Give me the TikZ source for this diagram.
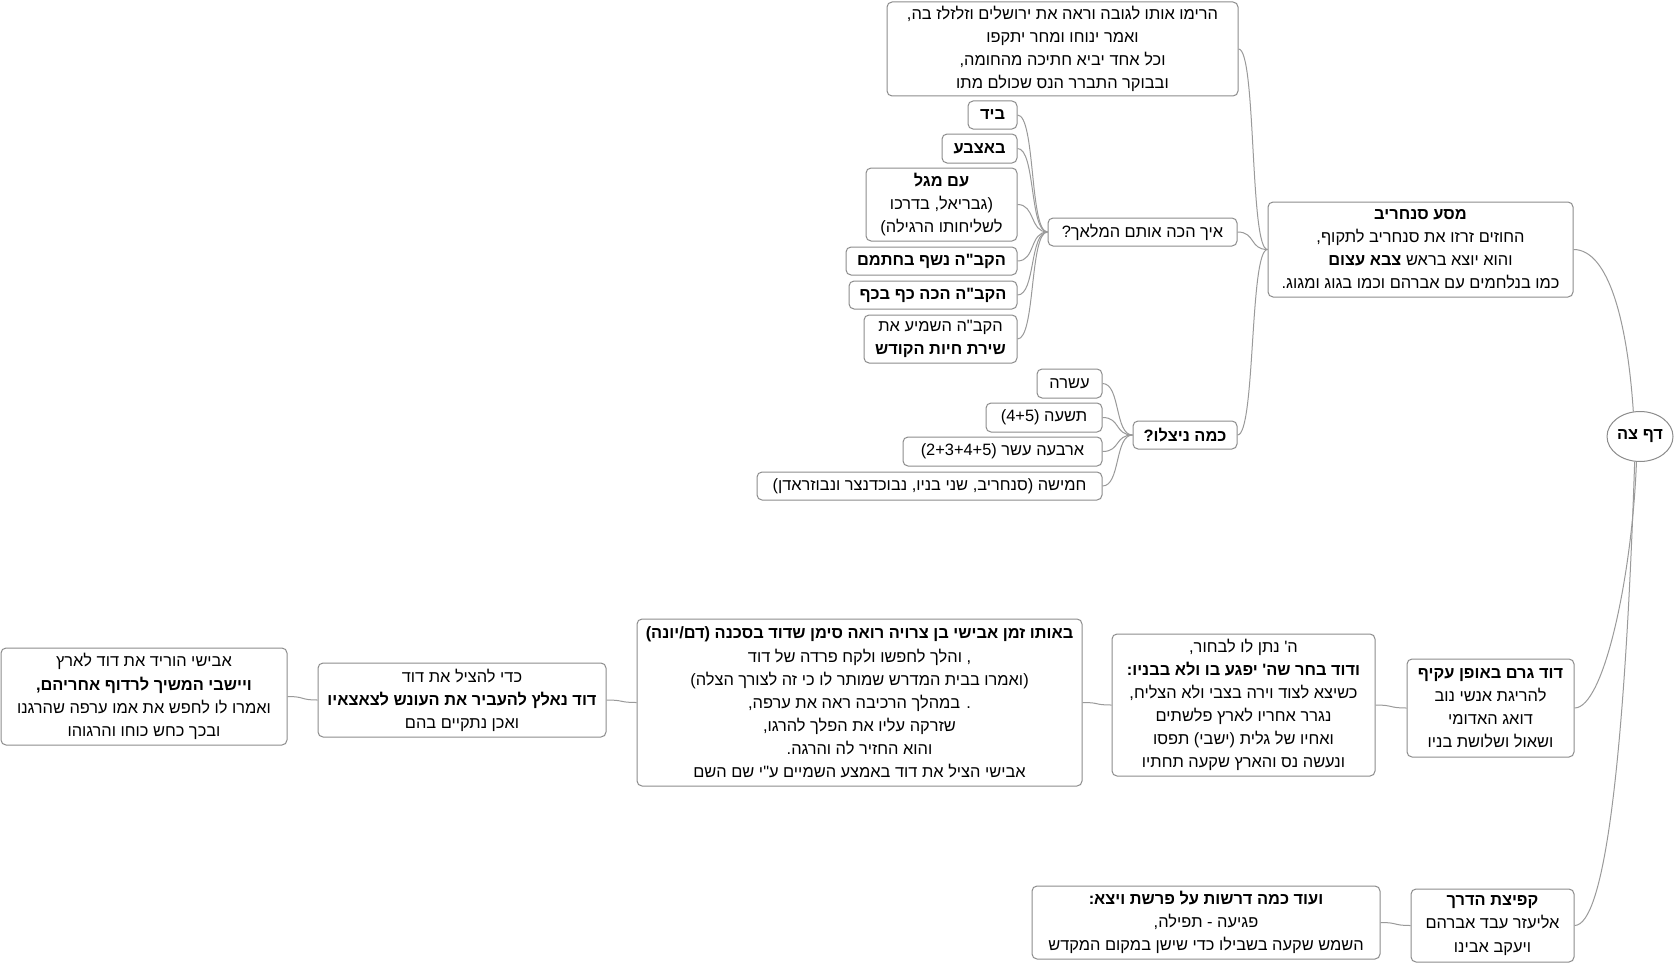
\documentclass[tikz,border=0pt]{standalone}
\usepackage{fontspec}
\usetikzlibrary{shapes.geometric}
\TeXXeTstate=1
\newfontfamily\hebfont[Script=Hebrew]{Liberation Sans}
\newfontfamily\latfont{Liberation Sans}
\newcommand\hbr[1]{\beginR#1\endR}
\definecolor{boxgray}{HTML}{8C8C8C}
\definecolor{linkgray}{HTML}{9A9A9A}
\tikzset{
  box/.style={draw=boxgray, rounded corners=2.5pt, line width=0.5pt, fill=white,
    inner sep=0pt, align=center, text=black,
    font=\hebfont\fontsize{8.2}{11.55}\selectfont},
  rootbox/.style={draw=boxgray, ellipse, line width=0.5pt, fill=white, inner sep=0pt,
    minimum width=33pt, minimum height=25pt, text=black,
    font=\hebfont\bfseries\fontsize{8.2}{11.55}\selectfont},
  link/.style={draw=linkgray, line width=0.5pt}
}
\newcommand\lnk[2]{\draw[link] (#1.west) .. controls +(-18,0) and +(18,0) .. (#2.east);}
\begin{document}
\begin{tikzpicture}[x=0.5pt,y=-0.5pt]
\useasboundingbox (0,0) rectangle (1674,963);
\fill[white] (0,0) rectangle (1674,963);

% top box
\node[box, minimum width=175.5pt, minimum height=47pt] (A) at (1062.5,49)
 {\hbr{הרימו אותו לגובה וראה את ירושלים וזלזלז בה,}\\
  \hbr{ואמר ינוחו ומחר יתקפו}\\
  \hbr{וכל אחד יביא חתיכה מהחומה,}\\
  \hbr{ובבוקר התברר הנס שכולם מתו}};

% how did the angel strike
\node[box, minimum width=24.5pt, minimum height=14pt] (B) at (992.5,115) {\bfseries\hbr{ביד}};
\node[box, minimum width=37.5pt, minimum height=14.5pt] (C) at (979.5,148.5) {\bfseries\hbr{באצבע}};
\node[box, minimum width=75.5pt, minimum height=36.5pt] (D) at (941.5,204.5)
 {\hbr{\bfseries עם מגל}\\ \hbr{(גבריאל, בדרכו}\\ \hbr{לשליחותו הרגילה)}};
\node[box, minimum width=85.5pt, minimum height=14pt] (E) at (931.5,261) {\bfseries\hbr{הקב"ה נשף בחתמם}};
\node[box, minimum width=84pt, minimum height=14pt] (F) at (933,295) {\bfseries\hbr{הקב"ה הכה כף בכף}};
\node[box, minimum width=76.5pt, minimum height=24pt] (G) at (940.5,339)
 {\hbr{הקב"ה השמיע את}\\ \hbr{\bfseries שירת חיות הקודש}};
\node[box, minimum width=94.5pt, minimum height=14pt] (H) at (1142.5,232) {\hbr{איך הכה אותם המלאך?}};

% how many were saved
\node[box, minimum width=32.5pt, minimum height=14.5pt] (I) at (1069.5,383.5) {\hbr{עשרה}};
\node[box, minimum width=58pt, minimum height=14.5pt] (J) at (1044,417.5) {{\latfont (4+5)} \hbr{תשעה}};
\node[box, minimum width=99.5pt, minimum height=14.5pt] (K) at (1002.5,451.5) {{\latfont (2+3+4+5)} \hbr{ארבעה עשר}};
\node[box, minimum width=172.5pt, minimum height=14pt] (L) at (929.5,486) {\hbr{חמישה (סנחריב, שני בניו, נבוכדנצר ונבוזראדן)}};
\node[box, minimum width=52pt, minimum height=14pt] (M) at (1185,435) {\bfseries\hbr{כמה ניצלו?}};

% Sennacherib
\node[box, minimum width=152.5pt, minimum height=47.5pt] (N) at (1420.5,249.5)
 {\hbr{\bfseries מסע סנחריב}\\
  \hbr{החוזים זרזו את סנחריב לתקוף,}\\
  \hbr{והוא יוצא בראש {\bfseries צבא עצום}}\\
  \hbr{כמו בנלחמים עם אברהם וכמו בגוג ומגוג.}};

% root
\node[rootbox] (R) at (1640,436.5) {\hbr{דף צה}};

% David chain
\node[box, minimum width=83.5pt, minimum height=49pt] (P1) at (1490.5,708)
 {\hbr{\bfseries דוד גרם באופן עקיף}\\ \hbr{להריגת אנשי נוב}\\ \hbr{דואג האדומי}\\ \hbr{ושאול ושלושת בניו}};
\node[box, minimum width=131.5pt, minimum height=71pt] (P2) at (1243.5,705)
 {\hbr{ה' נתן לו לבחור,}\\
  \hbr{\bfseries ודוד בחר שה' יפגע בו ולא בבניו:}\\
  \hbr{כשיצא לצוד וירה בצבי ולא הצליח,}\\
  \hbr{נגרר אחריו לארץ פלשתים}\\
  \hbr{ואחיו של גלית (ישבי) תפסו}\\
  \hbr{ונעשה נס והארץ שקעה תחתיו}};
\node[box, minimum width=222.5pt, minimum height=83.5pt] (P3) at (859.5,702.5)
 {\hbr{\bfseries באותו זמן אבישי בן צרויה רואה סימן שדוד בסכנה (דם/יונה)}\\
  \hbr{, והלך לחפשו ולקח פרדה של דוד}\\
  \hbr{(ואמרו בבית המדרש שמותר לו כי זה לצורך הצלה)}\\
  \hbr{. במהלך הרכיבה ראה את ערפה,}\\
  \hbr{שזרקה עליו את הפלך להרגו,}\\
  \hbr{והוא החזיר לה והרגה.}\\
  \hbr{אבישי הציל את דוד באמצע השמיים ע"י שם השם}};
\node[box, minimum width=144pt, minimum height=37pt] (P4) at (462,700)
 {\hbr{כדי להציל את דוד}\\
  \hbr{\bfseries דוד נאלץ להעביר את העונש לצאצאיו}\\
  \hbr{ואכן נתקיים בהם}};
\node[box, minimum width=143pt, minimum height=48.5pt] (P5) at (144,696.5)
 {\hbr{אבישי הוריד את דוד לארץ}\\
  \hbr{\bfseries ויישבי המשיך לרדוף אחריהם,}\\
  \hbr{ואמרו לו לחפש את אמו ערפה שהרגנו}\\
  \hbr{ובכך כחש כוחו והרגוהו}};

% shortening of the way
\node[box, minimum width=81.5pt, minimum height=36.5pt] (Q1) at (1492.5,925.5)
 {\hbr{\bfseries קפיצת הדרך}\\ \hbr{אליעזר עבד אברהם}\\ \hbr{ויעקב אבינו}};
\node[box, minimum width=174pt, minimum height=36.5pt] (Q2) at (1206,922.5)
 {\hbr{\bfseries ועוד כמה דרשות על פרשת ויצא:}\\
  \hbr{פגיעה - תפילה,}\\
  \hbr{השמש שקעה בשבילו כדי שישן במקום המקדש}};

% links
\draw[link] (R.105) .. controls +(-6,-90) and +(35,0) .. (N.east);
\draw[link] (R.262) .. controls +(-4,110) and +(30,0) .. (P1.east);
\draw[link] (R.258) .. controls +(-10,300) and +(30,0) .. (Q1.east);
\lnk{N}{A}
\lnk{N}{H}
\lnk{N}{M}
\lnk{H}{B}
\lnk{H}{C}
\lnk{H}{D}
\lnk{H}{E}
\lnk{H}{F}
\lnk{H}{G}
\lnk{M}{I}
\lnk{M}{J}
\lnk{M}{K}
\lnk{M}{L}
\lnk{P1}{P2}
\lnk{P2}{P3}
\lnk{P3}{P4}
\lnk{P4}{P5}
\lnk{Q1}{Q2}
\end{tikzpicture}
\end{document}
